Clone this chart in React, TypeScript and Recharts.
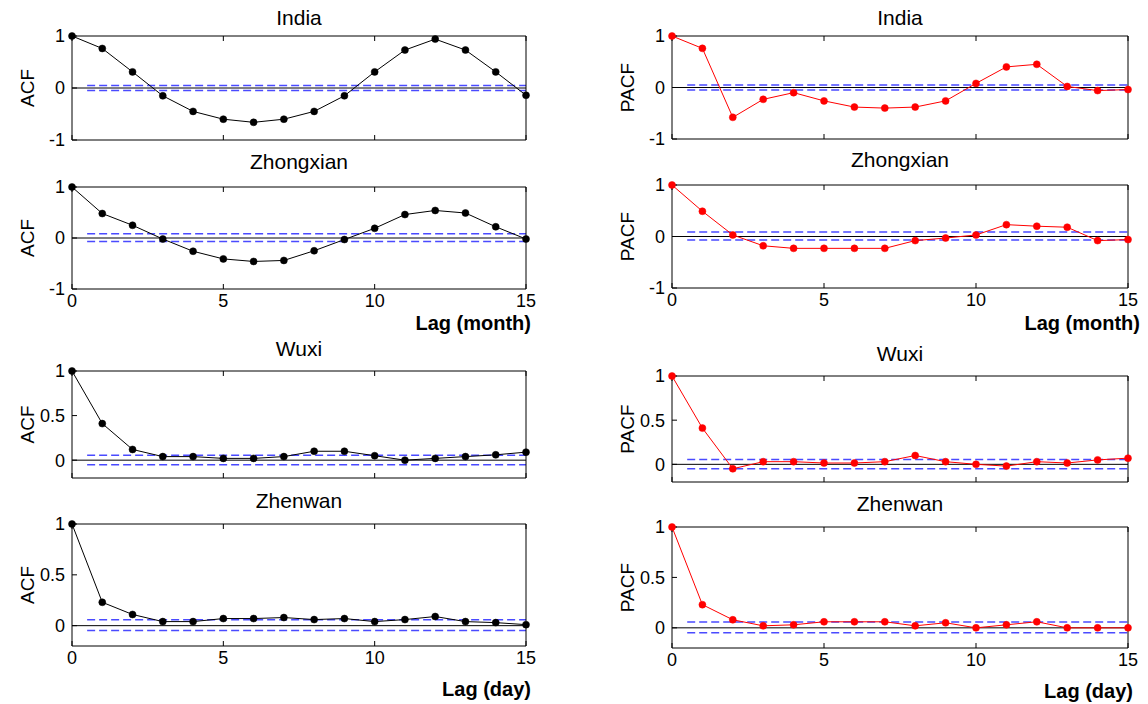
import React from 'react';
import { LineChart, Line, XAxis, YAxis, ReferenceLine } from 'recharts';

const lags = [0, 1, 2, 3, 4, 5, 6, 7, 8, 9, 10, 11, 12, 13, 14, 15];

const indiaAcf = [1, 0.76, 0.31, -0.15, -0.45, -0.6, -0.66, -0.6, -0.45, -0.15, 0.31, 0.73, 0.94, 0.73, 0.31, -0.14];
const indiaPacf = [1, 0.76, -0.58, -0.23, -0.1, -0.26, -0.38, -0.4, -0.38, -0.26, 0.08, 0.4, 0.45, 0.02, -0.06, -0.04];
const zhongxianAcf = [1, 0.48, 0.25, -0.02, -0.26, -0.41, -0.46, -0.44, -0.25, -0.03, 0.19, 0.46, 0.54, 0.49, 0.22, -0.02];
const zhongxianPacf = [1, 0.49, 0.03, -0.18, -0.23, -0.23, -0.23, -0.23, -0.08, -0.03, 0.03, 0.23, 0.2, 0.18, -0.08, -0.06];
const wuxiAcf = [1, 0.41, 0.12, 0.04, 0.04, 0.02, 0.02, 0.04, 0.1, 0.1, 0.05, 0.0, 0.02, 0.04, 0.06, 0.09];
const wuxiPacf = [1, 0.41, -0.05, 0.03, 0.03, 0.015, 0.015, 0.03, 0.1, 0.03, 0.0, -0.02, 0.03, 0.015, 0.05, 0.07];
const zhenwanAcf = [1, 0.23, 0.11, 0.04, 0.04, 0.07, 0.07, 0.08, 0.06, 0.07, 0.04, 0.06, 0.09, 0.04, 0.03, 0.01];
const zhenwanPacf = [1, 0.23, 0.08, 0.02, 0.03, 0.06, 0.06, 0.06, 0.02, 0.05, 0.0, 0.03, 0.06, 0.0, 0.0, 0.0];

// confidence bounds [upper, lower]
const indiaBounds = [0.05, -0.05];
const zhongxianBounds = [0.085, -0.07];
const wuxiBounds = [0.055, -0.05];
const zhenwanBounds = [0.057, -0.048];

const lagTicks = [0, 5, 10, 15];
const monthTicks = [-1, 0, 1];
const dayTicks = [0, 0.5, 1];

const FONT = 'Arial, "Liberation Sans", sans-serif';
const BLUE = '#4a4aff';

interface PanelProps {
  title: string;
  yLabel: string;
  values: number[];
  bounds: number[];
  color: string;
  yDomain: [number, number];
  yTicks: number[];
  plotLeft: number;
  plotRight: number;
  plotTop: number;
  plotBottom: number;
  titleGap: number;
  showX?: boolean;
  xLabel?: string;
  xLabelDx?: number;
  xLabelDy?: number;
}

const Panel: React.FC<PanelProps> = ({
  title, yLabel, values, bounds, color, yDomain, yTicks,
  plotLeft, plotRight, plotTop, plotBottom, titleGap,
  showX = false, xLabel, xLabelDx = 5, xLabelDy = 40,
}) => {
  const data = lags.map((lag, i) => ({ lag, v: values[i] }));
  const width = plotRight - plotLeft + 102;
  const height = plotBottom - plotTop + 96;
  const blank = () => '';

  return (
    <div style={{ position: 'absolute', left: plotLeft - 72, top: plotTop - 36 }}>
      <LineChart width={width} height={height} data={data} margin={{ top: 35, right: 29, left: 20, bottom: 0 }}>
        <XAxis
          dataKey="lag"
          type="number"
          domain={[0, 15]}
          ticks={lagTicks}
          interval={0}
          height={60}
          stroke="#000"
          tickSize={-5}
          tickMargin={10}
          tick={{ fontSize: 18, fill: '#000' }}
          tickFormatter={showX ? undefined : blank}
          label={xLabel ? (p: any) => {
            const vb = p.viewBox;
            return (
              <text x={vb.x + vb.width + xLabelDx} y={vb.y + xLabelDy} textAnchor="end"
                fontSize={20} fontWeight="bold" fill="#000" fontFamily={FONT}>{xLabel}</text>
            );
          } : undefined}
        />
        <XAxis
          xAxisId="top"
          orientation="top"
          dataKey="lag"
          type="number"
          domain={[0, 15]}
          ticks={lagTicks}
          interval={0}
          height={1}
          stroke="#000"
          tickSize={-5}
          tickFormatter={blank}
          label={{ value: title, position: 'top', offset: titleGap, fontSize: 21, fill: '#000' }}
        />
        <YAxis
          type="number"
          domain={yDomain}
          ticks={yTicks}
          interval={0}
          width={52}
          stroke="#000"
          tickSize={-5}
          tickMargin={12}
          tick={{ fontSize: 18, fill: '#000' }}
          label={(p: any) => {
            const vb = p.viewBox;
            const cx = vb.x + vb.width - 45;
            const cy = vb.y + vb.height / 2;
            return (
              <text x={cx} y={cy} transform={`rotate(-90 ${cx} ${cy})`} textAnchor="middle"
                dominantBaseline="central" fontSize={19} fill="#000" fontFamily={FONT}>{yLabel}</text>
            );
          }}
        />
        <YAxis
          yAxisId="right"
          orientation="right"
          type="number"
          domain={yDomain}
          ticks={yTicks}
          interval={0}
          width={1}
          stroke="#000"
          tickSize={-5}
          tickFormatter={blank}
        />
        <ReferenceLine y={0} stroke="#000" strokeWidth={1} />
        {bounds.map((b, i) => (
          <ReferenceLine
            key={i}
            segment={[{ x: 0.5, y: b }, { x: 15, y: b }]}
            stroke={BLUE}
            strokeWidth={1.5}
            strokeDasharray="8 4"
          />
        ))}
        <Line
          dataKey="v"
          stroke={color}
          strokeWidth={1}
          dot={{ r: 3.5, fill: color, stroke: color, strokeWidth: 0.5 }}
          activeDot={false}
          isAnimationActive={false}
        />
      </LineChart>
    </div>
  );
};

const LEFT = { plotLeft: 72, plotRight: 526 };
const RIGHT = { plotLeft: 672, plotRight: 1128 };

export default function App() {
  return (
    <div style={{ position: 'absolute', left: 0, top: 0, width: 1148, height: 704, background: '#fff', fontFamily: FONT }}>
      <Panel {...LEFT} plotTop={36} plotBottom={140} titleGap={10} title="India" yLabel="ACF"
        values={indiaAcf} bounds={indiaBounds} color="#000" yDomain={[-1, 1]} yTicks={monthTicks} />
      <Panel {...RIGHT} plotTop={36} plotBottom={139} titleGap={10} title="India" yLabel="PACF"
        values={indiaPacf} bounds={indiaBounds} color="#ff0000" yDomain={[-1, 1]} yTicks={monthTicks} />

      <Panel {...LEFT} plotTop={187} plotBottom={289} titleGap={17} title="Zhongxian" yLabel="ACF"
        values={zhongxianAcf} bounds={zhongxianBounds} color="#000" yDomain={[-1, 1]} yTicks={monthTicks}
        showX xLabel="Lag (month)" xLabelDx={5} xLabelDy={41} />
      <Panel {...RIGHT} plotTop={185} plotBottom={288} titleGap={17} title="Zhongxian" yLabel="PACF"
        values={zhongxianPacf} bounds={zhongxianBounds} color="#ff0000" yDomain={[-1, 1]} yTicks={monthTicks}
        showX xLabel="Lag (month)" xLabelDx={12} xLabelDy={42} />

      <Panel {...LEFT} plotTop={371} plotBottom={478} titleGap={14} title="Wuxi" yLabel="ACF"
        values={wuxiAcf} bounds={wuxiBounds} color="#000" yDomain={[-0.2, 1]} yTicks={dayTicks} />
      <Panel {...RIGHT} plotTop={376} plotBottom={482} titleGap={14} title="Wuxi" yLabel="PACF"
        values={wuxiPacf} bounds={wuxiBounds} color="#ff0000" yDomain={[-0.2, 1]} yTicks={dayTicks} />

      <Panel {...LEFT} plotTop={524} plotBottom={646} titleGap={15} title="Zhenwan" yLabel="ACF"
        values={zhenwanAcf} bounds={zhenwanBounds} color="#000" yDomain={[-0.2, 1]} yTicks={dayTicks}
        showX xLabel="Lag (day)" xLabelDx={5} xLabelDy={50} />
      <Panel {...RIGHT} plotTop={527} plotBottom={648} titleGap={15} title="Zhenwan" yLabel="PACF"
        values={zhenwanPacf} bounds={zhenwanBounds} color="#ff0000" yDomain={[-0.2, 1]} yTicks={dayTicks}
        showX xLabel="Lag (day)" xLabelDx={5} xLabelDy={50} />
    </div>
  );
}
